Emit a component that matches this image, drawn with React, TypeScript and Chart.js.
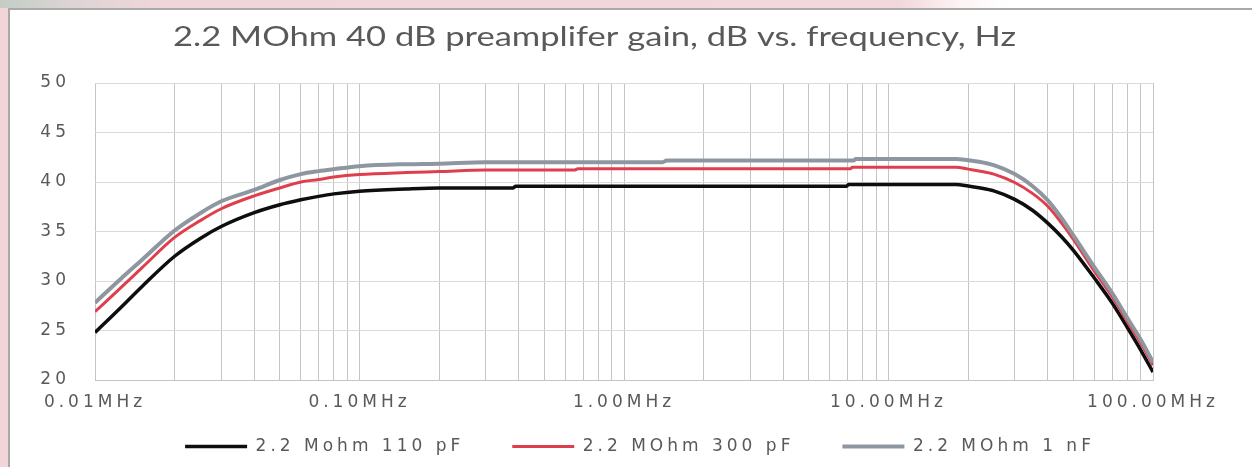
import { useEffect, useRef } from 'react';
import { Chart, registerables } from 'chart.js';

Chart.register(...registerables);

// ---- data ----
const frequencyMHz = [
  0.01, 0.0125, 0.015, 0.02, 0.025, 0.03, 0.04, 0.05, 0.06, 0.07, 0.08, 0.1, 0.15, 0.2,
  0.3, 0.38, 0.39, 0.65, 0.67, 1.4, 1.45, 6.95, 7.05, 7.2, 7.3, 7.4, 7.5, 18, 20, 22, 25,
  30, 35, 40, 45, 50, 60, 70, 80, 90, 100,
];

const gain110pF = [
  24.8, 27.3, 29.4, 32.5, 34.3, 35.5, 36.9, 37.7, 38.2, 38.55, 38.8, 39.07, 39.3, 39.4,
  39.4, 39.4, 39.57, 39.57, 39.57, 39.57, 39.57, 39.57, 39.75, 39.75, 39.75, 39.75, 39.75, 39.75, 39.6, 39.42, 39.1,
  38.25, 37.15, 35.85, 34.5, 33.1, 30.3, 27.8, 25.3, 23.0, 20.8,
];

const gain300pF = [
  26.9, 29.3, 31.3, 34.4, 36.1, 37.3, 38.6, 39.4, 40.0, 40.25, 40.5, 40.75, 40.95, 41.05,
  41.2, 41.2, 41.2, 41.2, 41.35, 41.35, 41.35, 41.35, 41.35, 41.35, 41.5, 41.5, 41.5, 41.5, 41.3, 41.12, 40.8,
  39.95, 38.85, 37.55, 35.9, 34.2, 31.0, 28.45, 25.9, 23.7, 21.5,
];

const gain1nF = [
  27.8, 30.2, 32.1, 35.1, 36.85, 38.05, 39.2, 40.2, 40.8, 41.1, 41.3, 41.6, 41.8, 41.85,
  42.0, 42.0, 42.0, 42.0, 42.0, 42.0, 42.17, 42.17, 42.17, 42.17, 42.17, 42.17, 42.33, 42.33, 42.2, 42.05, 41.7,
  40.8, 39.6, 38.15, 36.4, 34.6, 31.4, 28.8, 26.25, 24.05, 21.8,
];

const seriesLabels = ['2.2 Mohm 110 pF', '2.2 MOhm 300 pF', '2.2 MOhm 1 nF'];
const seriesColors = ['#0e0e0e', '#df3f4d', '#8e979f'];
const seriesWidths = [3.5, 3, 4];

const decadeTicks = [0.01, 0.1, 1, 10, 100];
const decadeTickLabels = ['0.01MHz', '0.10MHz', '1.00MHz', '10.00MHz', '100.00MHz'];
const gridMultipliers = [1, 2, 3, 4, 5, 6, 7, 8, 9];

const yMin = 20;
const yMax = 50;
const yStep = 5;

const titleText = '2.2 MOhm 40 dB preamplifer gain, dB vs. frequency, Hz';

// ---- styling ----
const TEXT_COLOR = '#595959';
const TEXT_SPACING = '4px';
const TICK_FONT = 'DejaVu Sans';

const spacingPlugin = {
  id: 'spacing',
  beforeLayout(chart: any) {
    chart.ctx.letterSpacing = TEXT_SPACING;
  },
  beforeDraw(chart: any) {
    chart.ctx.letterSpacing = TEXT_SPACING;
  },
};

const legendShiftPlugin = {
  id: 'legendShift',
  afterLayout(chart: any, _args: any, opts: any) {
    const lg = chart.legend;
    if (lg) {
      lg.left += opts.dx;
      lg.right += opts.dx;
      lg.top += opts.dy;
      lg.bottom += opts.dy;
    }
  },
};

const stretchedTitlePlugin = {
  id: 'stretchedTitle',
  afterDraw(chart: any, _args: any, opts: any) {
    const ctx = chart.ctx;
    ctx.save();
    ctx.letterSpacing = '0px';
    ctx.font = opts.font;
    ctx.fillStyle = opts.color;
    ctx.textAlign = 'center';
    ctx.textBaseline = 'alphabetic';
    const w = ctx.measureText(opts.text).width;
    ctx.translate(opts.centerX, opts.baseline);
    ctx.scale(opts.width / w, 1);
    ctx.fillText(opts.text, 0, 0);
    ctx.restore();
  },
};

export default function App() {
  const canvasRef = useRef<HTMLCanvasElement>(null);

  useEffect(() => {
    const canvas = canvasRef.current;
    if (!canvas) return;

    const toPoints = (vals: number[]) => frequencyMHz.map((f, i) => ({ x: f, y: vals[i] }));
    const allSeries = [gain110pF, gain300pF, gain1nF];
    // reversed so that the last series is drawn on top (legend order reversed back)
    const datasets = [2, 1, 0].map((k) => ({
      label: seriesLabels[k],
      data: toPoints(allSeries[k]),
      borderColor: seriesColors[k],
      backgroundColor: seriesColors[k],
      borderWidth: seriesWidths[k],
      pointRadius: 0,
      pointHoverRadius: 0,
      cubicInterpolationMode: 'monotone' as const,
      fill: false,
    }));

    const gridValues: number[] = [];
    decadeTicks.slice(0, -1).forEach((d) => gridMultipliers.forEach((m) => gridValues.push(+(m * d).toPrecision(6))));
    gridValues.push(decadeTicks[decadeTicks.length - 1]);

    const chart = new Chart(canvas, {
      type: 'line',
      data: { datasets },
      plugins: [spacingPlugin, legendShiftPlugin, stretchedTitlePlugin],
      options: {
        responsive: false,
        animation: false,
        devicePixelRatio: 1,
        layout: { padding: { top: 73, left: 10, right: 97, bottom: 3 } },
        scales: {
          x: {
            type: 'logarithmic',
            min: decadeTicks[0],
            max: decadeTicks[decadeTicks.length - 1],
            afterBuildTicks: (scale: any) => {
              scale.ticks = gridValues.map((v) => ({ value: v }));
            },
            afterFit: (scale: any) => {
              scale.height = 40;
            },
            grid: { color: '#c4c4c4', drawTicks: false, lineWidth: 1 },
            border: { color: '#c4c4c4' },
            ticks: {
              autoSkip: false,
              maxRotation: 0,
              minRotation: 0,
              padding: 12,
              color: TEXT_COLOR,
              font: { family: TICK_FONT, size: 17 },
              callback: (value: any) => {
                const v = Number(value);
                const i = decadeTicks.findIndex((d) => Math.abs(d - v) < d * 1e-6);
                return i >= 0 ? decadeTickLabels[i] : '';
              },
            },
          },
          y: {
            type: 'linear',
            min: yMin,
            max: yMax,
            afterFit: (scale: any) => {
              scale.width = 75;
            },
            grid: { color: '#dadada', drawTicks: false },
            border: { display: false },
            ticks: {
              stepSize: yStep,
              padding: 25,
              color: TEXT_COLOR,
              font: { family: TICK_FONT, size: 17 },
            },
          },
        },
        plugins: {
          title: { display: false },
          tooltip: { enabled: false },
          legend: {
            position: 'bottom',
            fullSize: false,
            reverse: true,
            labels: {
              usePointStyle: true,
              pointStyle: 'line',
              pointStyleWidth: 62,
              padding: 48,
              color: TEXT_COLOR,
              font: { family: TICK_FONT, size: 17 },
            },
          },
          legendShift: { dx: 16, dy: -30 },
          stretchedTitle: {
            text: titleText,
            font: '27px Lato',
            color: TEXT_COLOR,
            centerX: 584.5,
            baseline: 36,
            width: 843,
          },
        } as any,
      },
    });

    return () => chart.destroy();
  }, []);

  return (
    <div style={{ position: 'fixed', left: 0, top: 0, width: 1252, height: 467, overflow: 'hidden', background: '#f1d5d9' }}>
      <div
        style={{
          position: 'absolute',
          left: 0,
          top: 0,
          width: 1252,
          height: 8,
          background:
            'linear-gradient(90deg, #c3cdc5 0px, #ddd4d5 70px, #f0d6da 160px, #f2d8dc 900px, #fcf4f5 960px, #ffffff 1010px)',
        }}
      />
      <div
        style={{
          position: 'absolute',
          left: 8,
          top: 8,
          width: 1260,
          height: 520,
          background: '#ffffff',
          borderLeft: '2px solid #a9a9a9',
          borderTop: '2px solid #a9a9a9',
        }}
      >
        <canvas ref={canvasRef} width={1240} height={488} style={{ position: 'absolute', left: 0, top: 0 }} />
      </div>
    </div>
  );
}
